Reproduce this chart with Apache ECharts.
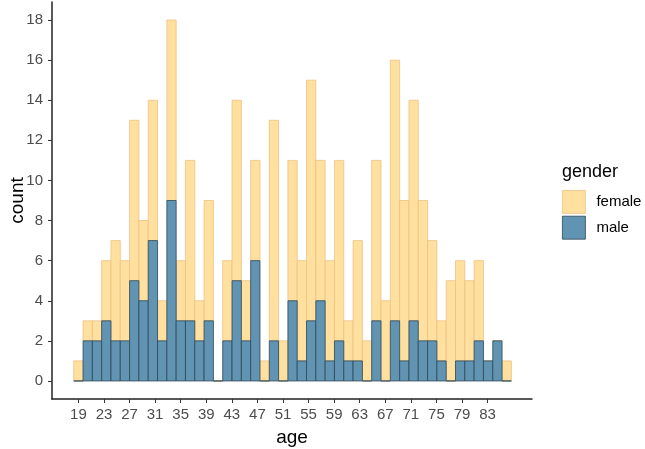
<!DOCTYPE html>
<html>
<head>
<meta charset="utf-8">
<script src="https://cdn.jsdelivr.net/npm/echarts@6/dist/echarts.min.js"></script>
<style>
  html, body { margin: 0; padding: 0; background: #fff; }
  #chart { width: 645px; height: 449px; }
</style>
</head>
<body>
<div id="chart"></div>
<script>
// histogram bins (age), 47 bins of equal width
const binStart = 18.27
const binWidth = 1.4565
// counts per bin, female is stacked on top of male
const male = [0, 2, 2, 3, 2, 2, 5, 4, 7, 2, 9, 3, 3, 2, 3, 0, 2, 5, 2, 6, 0, 2, 0, 4, 1, 3, 4, 1, 2, 1, 1, 0, 3, 0, 3, 1, 3, 2, 2, 1, 0, 1, 1, 2, 1, 2, 0]
const female = [1, 1, 1, 3, 5, 4, 8, 4, 7, 2, 9, 3, 8, 2, 6, 0, 4, 9, 3, 5, 1, 11, 2, 7, 5, 12, 7, 5, 9, 2, 6, 2, 8, 4, 13, 8, 11, 7, 5, 2, 5, 5, 4, 4, 0, 0, 1]
const ageTicks = [19, 23, 27, 31, 35, 39, 43, 47, 51, 55, 59, 63, 67, 71, 75, 79, 83]
const countTicks = [0, 2, 4, 6, 8, 10, 12, 14, 16, 18]

const femaleStyle = { color: '#FFE09F', borderColor: '#EDC283', borderWidth: 0.8 }
const maleStyle = { color: '#6094B2', borderColor: '#2F4655', borderWidth: 0.8 }

function binRows(base, values) {
  return values.map((v, i) => {
    const b = base ? base[i] : 0
    return [binStart + i * binWidth, binStart + (i + 1) * binWidth, b, b + v]
  })
}

function makeRender(style) {
  return function(params, api) {
    const p0 = api.coord([api.value(0), api.value(3)])
    const p1 = api.coord([api.value(1), api.value(2)])
    return {
      type: 'rect',
      shape: { x: p0[0], y: p0[1], width: p1[0] - p0[0], height: p1[1] - p0[1] },
      style: { fill: style.color, stroke: style.borderColor, lineWidth: style.borderWidth }
    }
  }
}

const chart = echarts.init(document.getElementById('chart'))
const font = 'Liberation Sans, Arial, sans-serif'
const option = {
  animation: false,
  backgroundColor: '#fff',
  textStyle: { fontFamily: font },
  title: {
    text: 'gender',
    left: 562,
    top: 163,
    padding: 0,
    textStyle: { fontSize: 18, fontWeight: 'normal', color: '#000', fontFamily: font }
  },
  legend: {
    orient: 'vertical',
    left: 562,
    top: 190,
    padding: 0,
    itemWidth: 23,
    itemHeight: 23,
    itemGap: 2,
    icon: 'rect',
    textStyle: { fontSize: 15, color: '#000', padding: [0, 0, 0, 6] },
    data: [
      { name: 'female', itemStyle: femaleStyle },
      { name: 'male', itemStyle: maleStyle }
    ]
  },
  grid: { left: 52, right: 113, top: 2, bottom: 50, containLabel: false, outerBoundsMode: 'none' },
  xAxis: {
    type: 'value',
    min: 14.87,
    max: 89.95,
    name: 'age',
    nameLocation: 'middle',
    nameGap: 29,
    nameMoveOverlap: false,
    nameTextStyle: { fontSize: 19, color: '#000' },
    axisLine: { onZero: false, lineStyle: { color: '#222', width: 1.5 } },
    axisTick: { show: true, length: 4, customValues: ageTicks, lineStyle: { color: '#333' } },
    axisLabel: { customValues: ageTicks, fontSize: 15, color: '#4D4D4D', margin: 8 },
    splitLine: { show: false }
  },
  yAxis: {
    type: 'value',
    min: -0.9,
    max: 18.9,
    name: 'count',
    nameLocation: 'middle',
    nameGap: 25,
    nameMoveOverlap: false,
    nameTextStyle: { fontSize: 19, color: '#000' },
    axisLine: { show: true, onZero: false, lineStyle: { color: '#222', width: 1.5 } },
    axisTick: { show: true, length: 4, customValues: countTicks, lineStyle: { color: '#333' } },
    axisLabel: { customValues: countTicks, fontSize: 15, color: '#4D4D4D', margin: 9 },
    splitLine: { show: false }
  },
  series: [
    {
      name: 'female',
      type: 'custom',
      itemStyle: femaleStyle,
      encode: { x: [0, 1], y: [2, 3] },
      renderItem: makeRender(femaleStyle),
      data: binRows(male, female)
    },
    {
      name: 'male',
      type: 'custom',
      itemStyle: maleStyle,
      encode: { x: [0, 1], y: [2, 3] },
      renderItem: makeRender(maleStyle),
      data: binRows(null, male)
    }
  ]
}
chart.setOption(option)
</script>
</body>
</html>
